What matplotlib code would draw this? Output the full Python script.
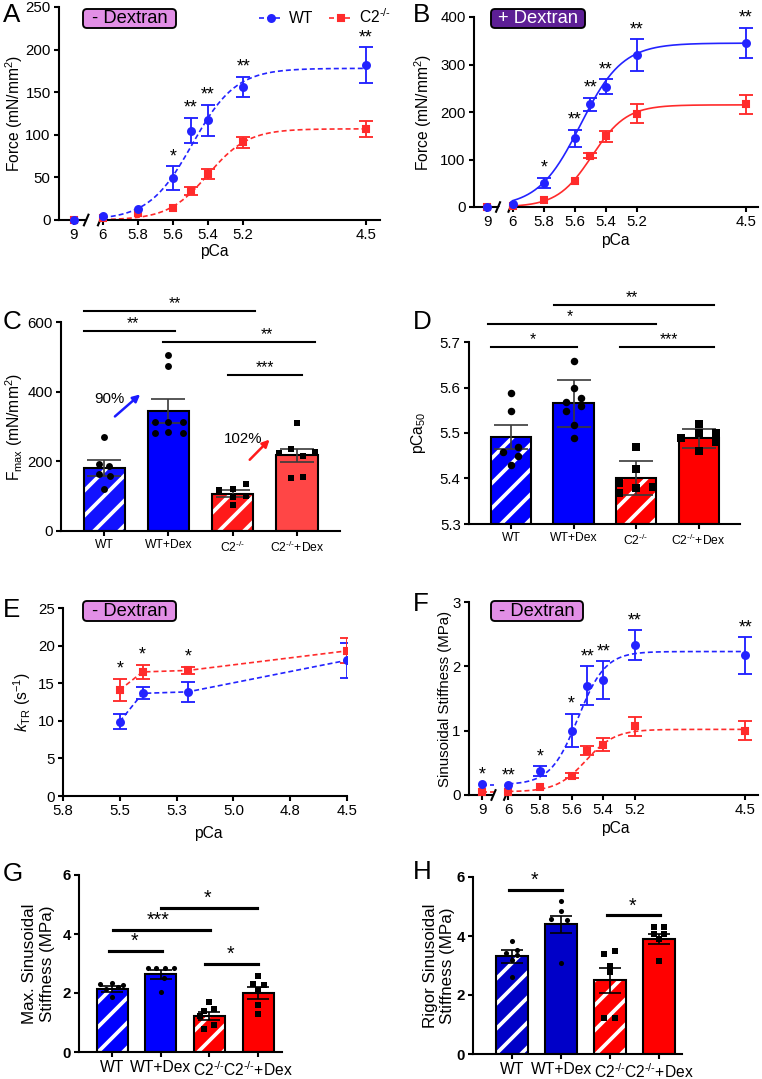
import numpy as np
import matplotlib
matplotlib.use('Agg')
import matplotlib.pyplot as plt
from matplotlib.patches import FancyBboxPatch
from matplotlib.lines import Line2D
from matplotlib import transforms

plt.rcParams['font.family'] = 'Liberation Sans'
plt.rcParams['mathtext.fontset'] = 'custom'
plt.rcParams['mathtext.rm'] = 'Liberation Sans'
plt.rcParams['mathtext.it'] = 'Liberation Sans:italic'
plt.rcParams['mathtext.bf'] = 'Liberation Sans:bold'
plt.rcParams['hatch.linewidth'] = 1.8

# ---- data: force / stiffness vs pCa ----
pca = [9, 6, 5.8, 5.6, 5.5, 5.4, 5.2, 4.5]
pca_ticks = ['9', '6', '5.8', '5.6', '5.4', '5.2', '4.5']

force_wt_A = [0, 5, 13, 49, 105, 117, 156, 182]
force_wt_A_sem = [0, 0, 0, 14, 15, 18, 12, 21]
force_c2_A = [0, 2, 8, 14.5, 34, 54, 91, 107]
force_c2_A_sem = [0, 0, 0, 0, 5, 6, 7, 9]
sig_A = ['', '', '', '*', '**', '**', '**', '**']

force_wt_B = [0, 7, 50, 145, 216, 253, 320, 345]
force_wt_B_sem = [0, 0, 11, 18, 14, 16, 33, 32]
force_c2_B = [0, 2, 15, 55, 108, 149, 196, 216]
force_c2_B_sem = [0, 0, 0, 0, 5, 12, 20, 20]
sig_B = ['', '', '*', '**', '**', '**', '**', '**']

stiff_wt_F = [0.17, 0.15, 0.37, 1.0, 1.70, 1.79, 2.33, 2.17]
stiff_wt_F_sem = [0, 0, 0.08, 0.26, 0.30, 0.29, 0.23, 0.285]
stiff_c2_F = [0.04, 0.05, 0.12, 0.30, 0.69, 0.78, 1.07, 1.0]
stiff_c2_F_sem = [0, 0, 0, 0.04, 0.07, 0.10, 0.15, 0.15]
sig_F = ['*', '**', '*', '*', '**', '**', '**', '**']

# Hill fits: baseline, plateau, pCa50, nH
fit_wt_A = (0, 178, 5.49, 3.5)
fit_c2_A = (0, 107, 5.40, 3.8)
fit_wt_B = (0, 345, 5.565, 3.2)
fit_c2_B = (0, 215, 5.49, 3.9)
fit_wt_F = (0.16, 2.23, 5.56, 5.0)
fit_c2_F = (0.05, 1.02, 5.51, 4.7)

# ---- data: ktr ----
pca_E = [5.5, 5.4, 5.2, 4.5]
ktr_wt = [9.9, 13.65, 13.85, 18.05]
ktr_wt_sem = [0.95, 0.8, 1.3, 2.3]
ktr_c2 = [14.1, 16.5, 16.7, 19.3]
ktr_c2_sem = [1.5, 0.95, 0.5, 1.65]
sig_E = ['*', '*', '*', '']
ktr_ticks = [5.75, 5.5, 5.25, 5.0, 4.75, 4.5]
ktr_ticklabels = ['5.8', '5.5', '5.3', '5.0', '4.8', '4.5']

# ---- data: bar charts ----
KO = 'C2$^{\\text{-/-}}$'
groups = ['WT', 'WT+Dex', KO, KO + '+Dex']

fmax_mean = [181, 345, 107, 217]
fmax_sem = [22, 34, 10, 19]
fmax_pts = [[271, 192, 187, 164, 158, 120],
            [504, 475, 314, 314, 314, 280, 283, 280],
            [118, 120, 134, 97, 100, 75],
            [311, 223, 234, 215, 227, 153, 154]]

pca50_mean = [5.491, 5.565, 5.401, 5.488]
pca50_sem = [0.027, 0.052, 0.038, 0.021]
pca50_pts = [[5.589, 5.549, 5.459, 5.469, 5.449, 5.43],
             [5.658, 5.598, 5.569, 5.578, 5.559, 5.549, 5.518, 5.488],
             [5.469, 5.42, 5.391, 5.38, 5.382, 5.369],
             [5.52, 5.499, 5.488, 5.499, 5.481, 5.46]]

maxstiff_mean = [2.15, 2.63, 1.22, 2.0]
maxstiff_sem = [0.1, 0.15, 0.15, 0.19]
maxstiff_pts = [[2.31, 2.33, 2.28, 2.12, 1.85, 2.2],
                [2.84, 2.84, 2.84, 2.84, 2.5, 2.02],
                [1.71, 1.38, 1.47, 1.21, 0.92, 0.79],
                [2.56, 2.3, 2.28, 2.09, 1.6, 1.3]]

rigor_mean = [3.31, 4.39, 2.50, 3.91]
rigor_sem = [0.21, 0.30, 0.43, 0.17]
rigor_pts = [[3.83, 3.52, 3.41, 3.35, 3.2, 2.6],
             [5.19, 4.85, 4.59, 4.53, 3.1],
             [3.38, 3.48, 2.79, 3.0, 1.23, 1.23],
             [4.31, 4.31, 4.06, 4.06, 3.9, 3.16]]

# jitter of the dots inside each bar (layout only)
offs_C = [[0, -0.08, 0.08, -0.08, 0.09, 0], [0, 0, -0.21, 0, 0.22, -0.21, 0, 0.22],
          [-0.21, 0, 0.21, 0, 0.21, 0], [0, -0.28, -0.09, 0.1, 0.28, -0.09, 0.1]]
offs_D = [[0, 0, -0.12, 0.12, 0.12, 0], [0, 0, -0.12, 0.12, 0.12, -0.12, 0, 0],
          [0, 0, -0.27, 0, 0.27, -0.27], [0, 0, -0.28, 0.27, 0.27, 0]]
offs_G = [[-0.24, 0, 0.22, -0.12, 0, 0.12], [-0.27, -0.1, 0.08, 0.27, 0.07, 0],
          [0, -0.12, 0.1, -0.2, 0.1, -0.12], [0, -0.1, 0.12, 0, 0, 0]]
offs_H = [[0, 0.1, -0.12, 0.1, 0, 0], [0, 0, -0.2, 0.12, 0],
          [-0.12, 0.11, 0, 0, -0.12, 0.11], [-0.11, 0.11, -0.11, 0.11, 0, 0]]

BLUE = '#2323ff'
RED = '#ff2b2b'
POS9 = 6.165

W, H, DPI = 762, 1079, 150
fig = plt.figure(figsize=(W / DPI, H / DPI), dpi=DPI)


def add_ax(l, t, r, b):
    return fig.add_axes([l / W, 1 - b / H, (r - l) / W, (b - t) / H])


def style(ax, fs=7.2):
    for s in ['top', 'right']:
        ax.spines[s].set_visible(False)
    for s in ['left', 'bottom']:
        ax.spines[s].set_linewidth(1.0)
    ax.tick_params(direction='out', length=2.5, width=1.0, labelsize=fs, pad=1.5)


def hill(p, base, top, p50, n):
    return base + (top - base) / (1 + 10 ** (n * (np.asarray(p, float) - p50)))


def dextran_box(x0, y0, x1, y1, text, fc, tc):
    box = FancyBboxPatch((x0, H - y1), x1 - x0, y1 - y0,
                         boxstyle='round,pad=0,rounding_size=4', fc=fc, ec='black',
                         lw=0.9, transform=transforms.IdentityTransform(), figure=fig)
    fig.patches.append(box)
    fig.text((x0 + x1) / 2 / W, 1 - (y0 + y1) / 2 / H, text, ha='center', va='center',
             fontsize=8.8, color=tc)


def panel_letter(x, y, s):
    fig.text(x / W, 1 - y / H, s, fontsize=12.5, ha='left', va='top')


def curve_panel(ax, wt, wt_sem, c2, c2_sem, sig, fit_wt, fit_c2, ls, ylim, yticks):
    style(ax)
    xpos = [POS9] + pca[1:]
    ax.set_xlim(6.25, 4.42)
    ax.set_ylim(*ylim)
    ax.set_yticks(yticks)
    ax.set_xticks([POS9] + pca[1:3] + pca[3:4] + pca[5:])
    ax.set_xticklabels(pca_ticks)
    pp = np.linspace(6.0, 4.5, 200)
    for vals, sem, fit, col, mk in [(c2, c2_sem, fit_c2, RED, 's'), (wt, wt_sem, fit_wt, BLUE, 'o')]:
        ax.plot(pp, hill(pp, *fit), ls=ls, color=col, lw=0.8)
        ax.plot([POS9, 6.09], [hill(9, *fit)] * 2, ls=ls, color=col, lw=0.8)
        idx = [i for i, e in enumerate(sem) if e > 0]
        ax.errorbar([xpos[i] for i in idx], [vals[i] for i in idx], yerr=[sem[i] for i in idx],
                    fmt='none', ecolor=col, elinewidth=0.9, capsize=3.5, capthick=0.9, clip_on=False)
        ax.plot(xpos, vals, mk, color=col, ms=3.3, clip_on=False, zorder=3)
    for x, v, e, s in zip(xpos, wt, wt_sem, sig):
        if s:
            ax.annotate(s, (x, v + e), xytext=(0, 0.5), textcoords='offset points',
                        ha='center', va='bottom', fontsize=8.5)
    ax.spines['bottom'].set_visible(False)
    tr = ax.get_xaxis_transform()
    ax.plot([6.25, 6.095], [0, 0], transform=tr, color='k', lw=1.0, clip_on=False)
    ax.plot([6.015, 4.42], [0, 0], transform=tr, color='k', lw=1.0, clip_on=False)
    for xc in [6.095, 6.015]:
        ax.plot([xc + 0.013, xc - 0.013], [-0.025, 0.025], transform=tr, color='k', lw=1.0,
                clip_on=False)
    ax.set_xlabel('pCa', fontsize=7.5)


def bar_panel(ax, means, sems, pts, offs, colors, hatched, ylim, yticks, brackets,
              ms, fs_sig, lw_sig, capsize, ecol, tick_fs, bold=False):
    style(ax)
    base = ylim[0]
    x = np.arange(4)
    for i in range(4):
        if hatched[i]:
            ax.bar(i, means[i] - base, 0.64, bottom=base, color=colors[i], edgecolor='white',
                   hatch='//', lw=0, zorder=1)
            ax.bar(i, means[i] - base, 0.64, bottom=base, fill=False, edgecolor='black',
                   lw=1.0, zorder=1.5)
        else:
            ax.bar(i, means[i] - base, 0.64, bottom=base, color=colors[i], edgecolor='black',
                   lw=1.0, zorder=1)
    ax.errorbar(x, means, yerr=sems, fmt='none', ecolor=ecol, elinewidth=0.8, capsize=capsize,
                capthick=0.8, zorder=2)
    for i in range(4):
        mk = 'o' if i < 2 else 's'
        ax.scatter(i + np.array(offs[i]), pts[i], marker=mk, s=ms, color='black', lw=0,
                   zorder=3, clip_on=False)
    for x0, x1, y, lab, lx in brackets:
        ax.plot([x0, x1], [y, y], color='black', lw=lw_sig, clip_on=False)
        ax.text(lx, y, lab, ha='center', va='bottom', fontsize=fs_sig)
    ax.set_ylim(*ylim)
    ax.set_yticks(yticks)
    ax.set_xticks(x)
    ax.set_xticklabels(groups, fontsize=tick_fs)
    if bold:
        for lab in ax.get_yticklabels():
            lab.set_fontweight('bold')


# ---------------- A ----------------
axA = add_ax(59, 7, 380, 220)
curve_panel(axA, force_wt_A, force_wt_A_sem, force_c2_A, force_c2_A_sem, sig_A,
            fit_wt_A, fit_c2_A, (0, (3, 1.8)), (0, 250), [0, 50, 100, 150, 200, 250])
axA.set_ylabel('Force (mN/mm$^2$)', fontsize=7.5)
axA.yaxis.set_label_coords(-0.105, 0.5)
axA.xaxis.set_label_coords(0.483, -0.115)
handles = [Line2D([], [], color=BLUE, ls=(0, (3, 1.8)), lw=0.8, marker='o', ms=3.3),
           Line2D([], [], color=RED, ls=(0, (3, 1.8)), lw=0.8, marker='s', ms=3.3)]
axA.legend(handles, ['WT', KO], loc='upper left', bbox_to_anchor=(0.6, 1.035),
           ncol=2, frameon=False, fontsize=7.5, handlelength=1.5, handletextpad=0.4,
           columnspacing=1.0, borderpad=0)
dextran_box(83, 9, 176, 28, '- Dextran', '#e28fe6', 'black')
panel_letter(3, 3, 'A')

# ---------------- B ----------------
axB = add_ax(474, 17, 758, 207)
curve_panel(axB, force_wt_B, force_wt_B_sem, force_c2_B, force_c2_B_sem, sig_B,
            fit_wt_B, fit_c2_B, '-', (0, 400), [0, 100, 200, 300, 400])
axB.set_ylabel('Force (mN/mm$^2$)', fontsize=7.5)
axB.yaxis.set_label_coords(-0.142, 0.5)
axB.xaxis.set_label_coords(0.496, -0.135)
dextran_box(491, 9, 585, 28, '+ Dextran', '#5d1f95', 'white')
panel_letter(413, 3, 'B')

# ---------------- C ----------------
axC = add_ax(61, 322, 340, 531)
axC.set_xlim(-0.67, 3.67)
br_C = [(-0.31, 2.35, 631, '**', 1.1), (-0.31, 1.10, 573, '**', 0.45),
        (0.92, 3.28, 543, '**', 2.53), (1.93, 3.08, 447, '***', 2.5)]
bar_panel(axC, fmax_mean, fmax_sem, fmax_pts, offs_C,
          ['#1212ff', '#0000ff', '#ff1a1a', '#ff4646'], [True, False, True, False],
          (0, 600), [0, 200, 400, 600], br_C, 11, 7.5, 1.0, 8, '#3a3a3a', 5.8)
axC.set_ylabel('F$_{\\rm max}$ (mN/mm$^2$)', fontsize=7.5)
axC.yaxis.set_label_coords(-0.128, 0.5)
axC.annotate('', xy=(0.61, 400), xytext=(0.12, 321),
             arrowprops=dict(arrowstyle='-|>', color='#1a1aff', lw=1.2, mutation_scale=7))
axC.text(0.09, 378, '90%', ha='center', va='center', fontsize=7.2)
axC.annotate('', xy=(2.62, 271), xytext=(2.22, 196),
             arrowprops=dict(arrowstyle='-|>', color='#ff1a1a', lw=1.2, mutation_scale=7))
axC.text(2.17, 263, '102%', ha='center', va='center', fontsize=7.2)
panel_letter(3, 310, 'C')

# ---------------- D ----------------
axD = add_ax(469, 342, 740, 524)
axD.set_xlim(-0.67, 3.66)
br_D = [(0.69, 3.24, 5.782, '**', 1.93), (-0.37, 2.31, 5.74, '*', 0.94),
        (-0.32, 1.05, 5.689, '*', 0.35), (1.75, 3.24, 5.689, '***', 2.52)]
bar_panel(axD, pca50_mean, pca50_sem, pca50_pts, offs_D,
          ['#0000ff', '#0000ff', '#ff0000', '#ff0000'], [True, False, True, False],
          (5.3, 5.7), [5.3, 5.4, 5.5, 5.6, 5.7], br_D, 13, 7.5, 1.0, 8, '#3a3a3a', 5.8)
axD.set_ylabel('pCa$_{50}$', fontsize=7.5)
axD.yaxis.set_label_coords(-0.15, 0.5)
panel_letter(413, 310, 'D')

# ---------------- E ----------------
axE = add_ax(63, 608, 347, 796)
style(axE)
axE.set_xlim(5.75, 4.5)
axE.set_ylim(0, 25)
axE.set_yticks([0, 5, 10, 15, 20, 25])
axE.set_xticks(ktr_ticks)
axE.set_xticklabels(ktr_ticklabels)
for vals, sem, col, mk in [(ktr_wt, ktr_wt_sem, BLUE, 'o'), (ktr_c2, ktr_c2_sem, RED, 's')]:
    axE.errorbar(pca_E, vals, yerr=sem, fmt=mk + '--', color=col, ms=3.3, lw=0.8,
                 dashes=(3, 1.8), elinewidth=0.9, capsize=3.5, capthick=0.9)
for x, v, e, s in zip(pca_E, ktr_c2, ktr_c2_sem, sig_E):
    if s:
        axE.annotate(s, (x, v + e), xytext=(0, 0.5), textcoords='offset points',
                     ha='center', va='bottom', fontsize=8.5)
axE.set_ylabel('$k_{\\rm TR}$ (s$^{-1}$)', fontsize=7.5)
axE.yaxis.set_label_coords(-0.105, 0.5)
axE.set_xlabel('pCa', fontsize=7.5)
axE.xaxis.set_label_coords(0.51, -0.16)
dextran_box(83, 601, 176, 621, '- Dextran', '#e28fe6', 'black')
panel_letter(3, 598, 'E')

# ---------------- F ----------------
axF = add_ax(469, 602, 758, 795)
curve_panel(axF, stiff_wt_F, stiff_wt_F_sem, stiff_c2_F, stiff_c2_F_sem, sig_F,
            fit_wt_F, fit_c2_F, (0, (3, 1.8)), (0, 3), [0, 1, 2, 3])
axF.set_ylabel('Sinusoidal Stiffness (MPa)', fontsize=7.2)
axF.yaxis.set_label_coords(-0.06, 0.5)
axF.xaxis.set_label_coords(0.505, -0.135)
dextran_box(491, 601, 583, 621, '- Dextran', '#e28fe6', 'black')
panel_letter(413, 592, 'F')

# ---------------- G ----------------
axG = add_ax(79, 875, 282, 1052)
axG.set_xlim(-0.68, 3.49)
br_G = [(1.0, 2.98, 4.89, '*', 1.95), (0.02, 2.01, 4.14, '***', 0.95),
        (-0.06, 1.03, 3.43, '*', 0.47), (1.91, 2.99, 2.99, '*', 2.44)]
bar_panel(axG, maxstiff_mean, maxstiff_sem, maxstiff_pts, offs_G,
          ['#0000ff', '#0000ff', '#ff0000', '#ff0000'], [True, False, True, False],
          (0, 6), [0, 2, 4, 6], br_G, 6, 9.5, 1.5, 5.5, 'black', 7.5, bold=True)
axG.set_ylabel('Max. Sinusoidal\nStiffness (MPa)', fontsize=8.2)
axG.yaxis.set_label_coords(-0.12, 0.5)
panel_letter(3, 862, 'G')

# ---------------- H ----------------
axH = add_ax(473, 877, 682, 1054)
axH.set_xlim(-0.8, 3.47)
br_H = [(-0.06, 1.02, 5.57, '*', 0.45), (1.94, 3.02, 4.70, '*', 2.45)]
bar_panel(axH, rigor_mean, rigor_sem, rigor_pts, offs_H,
          ['#0000c8', '#0000c8', '#ff0000', '#ff0000'], [True, False, True, False],
          (0, 6), [0, 2, 4, 6], br_H, 6, 9.5, 1.5, 5.5, 'black', 7.5, bold=True)
axH.set_ylabel('Rigor Sinusoidal\nStiffness (MPa)', fontsize=8.2)
axH.yaxis.set_label_coords(-0.086, 0.5)
panel_letter(413, 860, 'H')

fig.savefig('out.png', dpi=DPI)
